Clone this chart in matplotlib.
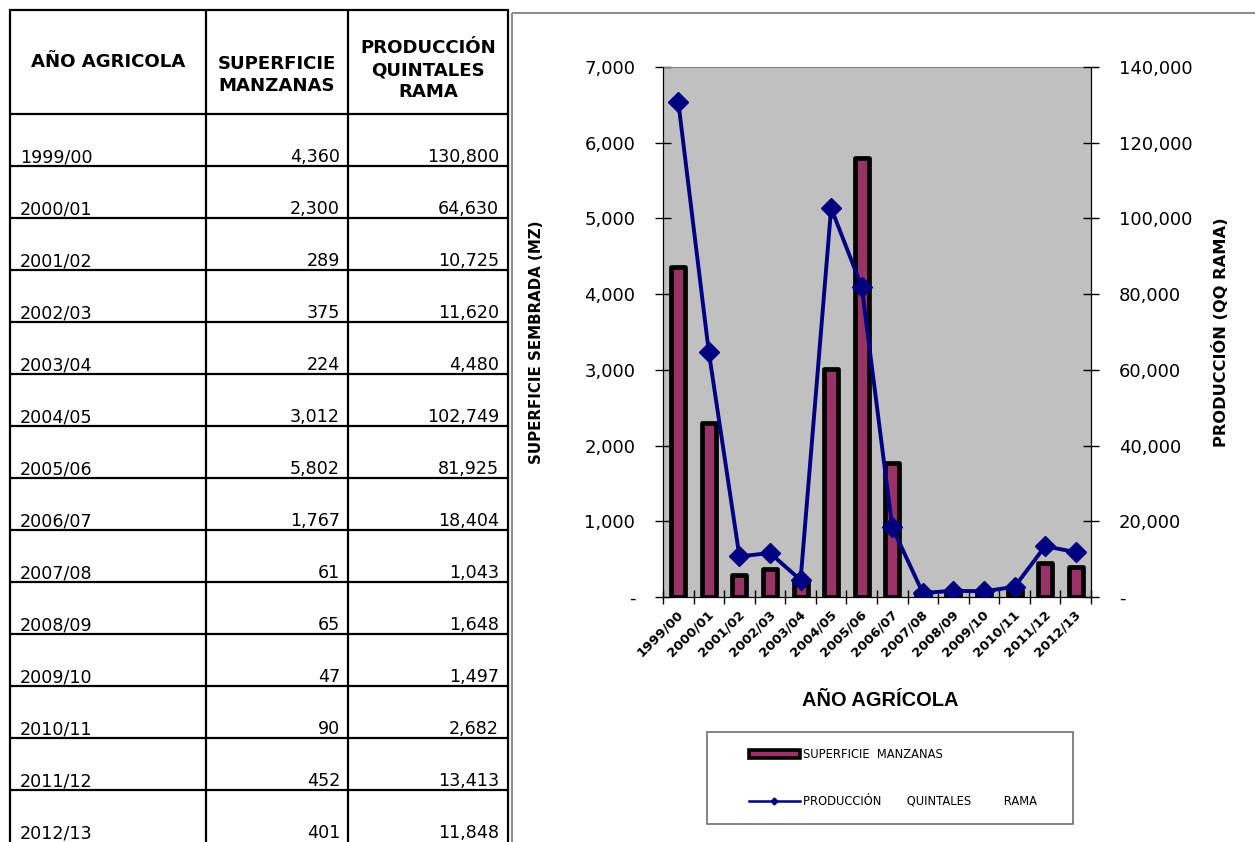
import numpy as np
import matplotlib
matplotlib.use('Agg')
import matplotlib.pyplot as plt
from matplotlib import font_manager
from matplotlib.patches import Rectangle, Patch
from matplotlib.lines import Line2D
from matplotlib.transforms import ScaledTranslation

# data (from the table in the picture)
years = ['1999/00', '2000/01', '2001/02', '2002/03', '2003/04', '2004/05', '2005/06',
         '2006/07', '2007/08', '2008/09', '2009/10', '2010/11', '2011/12', '2012/13']
superficie = [4360, 2300, 289, 375, 224, 3012, 5802, 1767, 61, 65, 47, 90, 452, 401]
produccion = [130800, 64630, 10725, 11620, 4480, 102749, 81925, 18404, 1043, 1648,
              1497, 2682, 13413, 11848]

col_headers = ['AÑO AGRICOLA', 'SUPERFICIE\nMANZANAS', 'PRODUCCIÓN\nQUINTALES\nRAMA']
left_ticks = list(range(0, 7001, 1000))
right_ticks = list(range(0, 140001, 20000))
legend_labels = ['SUPERFICIE  MANZANAS', 'PRODUCCIÓN       QUINTALES         RAMA']

# narrow font for the Tahoma-looking texts, if it is there
names = {f.name for f in font_manager.fontManager.ttflist}
narrow = 'DejaVu Sans Condensed' if 'DejaVu Sans Condensed' in names else 'DejaVu Sans'
k = 1.0 if narrow == 'DejaVu Sans Condensed' else 0.9

W, H = 1255, 842
fig = plt.figure(figsize=(W / 100, H / 100), dpi=100)

# ---- table on the left, drawn in pixel coordinates
tab = fig.add_axes([0, 0, 1, 1])
tab.set_xlim(0, W)
tab.set_ylim(H, 0)
tab.axis('off')

cols = [10, 206, 348, 508]
top, head_bottom, row_h = 10, 114, 52
n = len(years)
for x in cols:
    tab.plot([x, x], [top - 1, H + 5], color='black', lw=1.6, solid_capstyle='butt')
for i in range(n + 1):
    y = top if i == 0 else head_bottom + row_h * (i - 1)
    tab.plot([cols[0] - 1, cols[-1] + 1], [y, y], color='black', lw=1.6, solid_capstyle='butt')

head_y = [62, 75, 70]
for j, h in enumerate(col_headers):
    tab.text((cols[j] + cols[j + 1]) / 2, head_y[j], h, ha='center', va='center',
             family=narrow, fontweight='bold', fontsize=14.5 * k, linespacing=1.3)

for i in range(n):
    yb = head_bottom + row_h * (i + 1) - 4
    tab.text(cols[0] + 10, yb, years[i], ha='left', va='baseline', family=narrow, fontsize=14 * k)
    tab.text(cols[2] - 8, yb, f'{superficie[i]:,}', ha='right', va='baseline', family=narrow, fontsize=14 * k)
    tab.text(cols[3] - 9, yb, f'{produccion[i]:,}', ha='right', va='baseline', family=narrow, fontsize=14 * k)

# chart frame and legend box
tab.add_patch(Rectangle((512, 13), 800, 900, fill=False, edgecolor='#8c8c8c', lw=1.5))
tab.add_patch(Rectangle((707, 732), 366, 92, fill=False, edgecolor='#707070', lw=1.2))

# ---- chart
ax = fig.add_axes([663 / W, 1 - 597 / H, 428 / W, 530 / H])
ax.set_facecolor('#c0c0c0')
x = np.arange(n)
ax.bar(x, superficie, width=0.46, color='#993366', edgecolor='black', linewidth=3.4,
       joinstyle='round', zorder=3)
ax.set_xlim(-0.5, n - 0.5)
ax.set_ylim(0, 7000)
ax.set_yticks(left_ticks, labels=[f'{v:,}' if v else '-' for v in left_ticks])
ax.set_xticks(np.arange(n + 1) - 0.5, labels=[])
ax.set_xticks(x, labels=years, minor=True)
ax.tick_params(axis='y', direction='inout', length=12, width=1, pad=14, labelsize=13)
ax.tick_params(axis='x', which='major', direction='inout', length=10, width=1)
ax.tick_params(axis='x', which='minor', length=0, pad=11)
off = ScaledTranslation(3 / 100, 0, fig.dpi_scale_trans)
for lbl in ax.get_xticklabels(minor=True):
    lbl.set(rotation=45, ha='right', va='center', rotation_mode='anchor',
            family=narrow, fontweight='bold', fontsize=10.5 * k)
    lbl.set_transform(lbl.get_transform() + off)
for s in ['left', 'bottom', 'right']:
    ax.spines[s].set_color('black')
ax.spines['top'].set_color('#808080')

ax.set_xlabel('AÑO AGRÍCOLA', family='Liberation Sans', fontweight='bold', fontsize=14.4)
ax.xaxis.set_label_coords(0.507, -0.178)
ax.set_ylabel('SUPERFICIE SEMBRADA (MZ)', family=narrow, fontweight='bold', fontsize=12 * k)
ax.yaxis.set_label_coords(-0.279, 0.48)

ax2 = ax.twinx()
ax2.plot(x, produccion, color='#000080', lw=2.8, marker='D', ms=10.5, mew=1, zorder=4)
ax2.set_ylim(0, 140000)
ax2.set_yticks(right_ticks, labels=[f'{v:,}' if v else '-' for v in right_ticks])
ax2.tick_params(axis='y', direction='inout', length=12, width=1, pad=14, labelsize=13)
ax2.spines['top'].set_visible(False)
ax2.set_ylabel('PRODUCCIÓN (QQ RAMA)', family=narrow, fontweight='bold', fontsize=13 * k)
ax2.yaxis.set_label_coords(1.283, 0.5)

# legend
handles = [Patch(facecolor='#993366', edgecolor='black', linewidth=2.6),
           Line2D([], [], color='#000080', lw=1.8, marker='D', ms=3.5)]
fig.legend(handles, legend_labels, loc='center left', bbox_to_anchor=(749 / W, 1 - 778 / H),
           frameon=False, borderpad=0, borderaxespad=0, handlelength=4.4, handletextpad=0.25,
           labelspacing=2.9, prop={'family': narrow, 'size': 8.3})

fig.savefig('out.png', dpi=100)
